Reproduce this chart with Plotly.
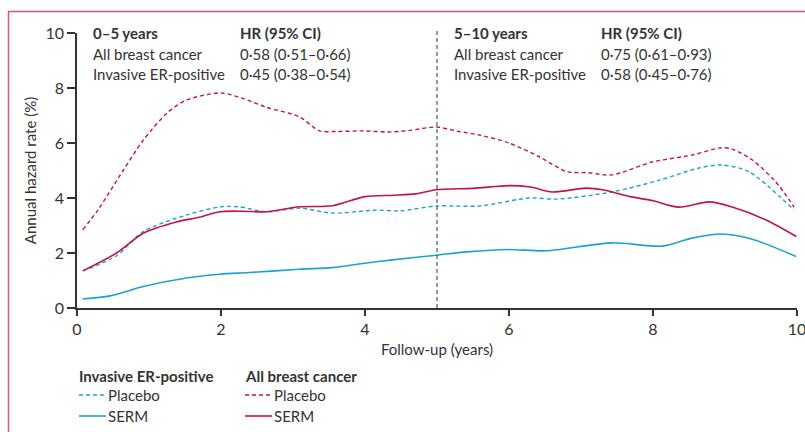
import plotly.graph_objects as go

# Follow-up time points (years) and annual hazard rates (%)
years_all_placebo = [0.08, 0.3, 0.64, 0.92, 1.25, 1.52, 2.0, 2.3, 2.63, 3.09, 3.37, 3.6, 4.0, 4.3, 4.6, 4.99, 5.3, 5.59, 6.0, 6.42, 6.8, 7.1, 7.43, 7.99, 8.54, 8.95, 9.1, 9.38, 9.7, 9.96]
all_placebo = [2.84, 3.6, 5.0, 6.1, 7.09, 7.56, 7.82, 7.62, 7.3, 6.95, 6.44, 6.42, 6.44, 6.40, 6.45, 6.58, 6.42, 6.29, 6.0, 5.5, 4.96, 4.92, 4.84, 5.31, 5.56, 5.83, 5.78, 5.38, 4.6, 3.67]

years_all_serm = [0.08, 0.55, 0.92, 1.38, 1.7, 1.98, 2.3, 2.63, 3.09, 3.55, 4.0, 4.4, 4.7, 4.99, 5.5, 6.0, 6.3, 6.6, 7.07, 7.3, 7.7, 8.0, 8.36, 8.78, 9.1, 9.57, 9.99]
all_serm = [1.35, 2.0, 2.72, 3.13, 3.3, 3.5, 3.52, 3.5, 3.68, 3.72, 4.05, 4.1, 4.15, 4.3, 4.35, 4.45, 4.4, 4.22, 4.36, 4.3, 4.04, 3.9, 3.67, 3.86, 3.67, 3.2, 2.6]

years_er_placebo = [0.08, 0.55, 0.92, 1.52, 2.0, 2.25, 2.63, 3.09, 3.55, 4.16, 4.48, 4.99, 5.59, 6.28, 6.66, 7.43, 8.09, 8.64, 8.95, 9.33, 9.96]
er_placebo = [1.35, 1.9, 2.78, 3.38, 3.68, 3.68, 3.5, 3.63, 3.45, 3.56, 3.53, 3.71, 3.71, 4.0, 3.96, 4.22, 4.65, 5.09, 5.2, 4.96, 3.56]

years_er_serm = [0.08, 0.46, 0.92, 1.52, 1.98, 2.4, 3.09, 3.55, 3.97, 4.38, 4.99, 5.41, 6.0, 6.52, 7.43, 8.13, 8.54, 8.96, 9.38, 9.99]
er_serm = [0.33, 0.44, 0.78, 1.09, 1.23, 1.29, 1.41, 1.47, 1.62, 1.75, 1.92, 2.04, 2.13, 2.08, 2.37, 2.25, 2.54, 2.69, 2.5, 1.87]

x_ticks = [0, 2, 4, 6, 8, 10]
y_ticks = [0, 2, 4, 6, 8, 10]
split_year = 5

hr_left = ["0–5 years", "All breast cancer", "Invasive ER-positive"]
hr_left_vals = ["HR (95% CI)", "0·58 (0·51–0·66)", "0·45 (0·38–0·54)"]
hr_right = ["5–10 years", "All breast cancer", "Invasive ER-positive"]
hr_right_vals = ["HR (95% CI)", "0·75 (0·61–0·93)", "0·58 (0·45–0·76)"]

CRIMSON = "#c4134a"
CYAN = "#1ba3cc"
TEXT = "#333333"
FRAME = "#d6587e"
FONT = "Lato"

W, H = 805, 432
L, R, T, B = 77, 8, 33, 124
PW, PH = W - L - R, H - T - B


def px(xp):
    return (xp - L) / PW


def py(yp):
    return (H - B - yp) / PH


fig = go.Figure()
dash = "4px,3px"
fig.add_trace(go.Scatter(x=years_all_placebo, y=all_placebo, mode="lines", line=dict(color=CRIMSON, width=1.4, dash=dash, shape="spline", smoothing=0.8)))
fig.add_trace(go.Scatter(x=years_er_placebo, y=er_placebo, mode="lines", line=dict(color=CYAN, width=1.4, dash=dash, shape="spline", smoothing=0.8)))
fig.add_trace(go.Scatter(x=years_all_serm, y=all_serm, mode="lines", line=dict(color=CRIMSON, width=1.6, shape="spline", smoothing=0.8)))
fig.add_trace(go.Scatter(x=years_er_serm, y=er_serm, mode="lines", line=dict(color=CYAN, width=1.6, shape="spline", smoothing=0.8)))

shapes = []
# vertical divider at 5 years
shapes.append(dict(type="line", xref="x", yref="paper", x0=split_year, x1=split_year, y0=0, y1=py(30),
                   line=dict(color="#4a5866", width=1.2, dash="4px,3px")))
# panel frame (top and left)
shapes.append(dict(type="line", xref="paper", yref="paper", x0=px(8), x1=px(806), y0=py(11.5), y1=py(11.5),
                   line=dict(color=FRAME, width=1.5)))
shapes.append(dict(type="line", xref="paper", yref="paper", x0=px(8.5), x1=px(8.5), y0=py(11.5), y1=py(433),
                   line=dict(color=FRAME, width=1.5)))

annotations = []


def txt(x, y, s, bold=False, size=15, **kw):
    annotations.append(dict(xref="paper", yref="paper", x=px(x), y=py(y), text=f"<b>{s}</b>" if bold else s,
                            showarrow=False, xanchor="left", yanchor="middle",
                            font=dict(family=FONT, size=size, color=TEXT), **kw))


for i, (a, b) in enumerate(zip(hr_left, hr_left_vals)):
    txt(91, 33 + 20.5 * i, a, bold=(i == 0))
    txt(238, 33 + 20.5 * i, b, bold=(i == 0))
for i, (a, b) in enumerate(zip(hr_right, hr_right_vals)):
    txt(452, 33 + 20.5 * i, a, bold=(i == 0))
    txt(599, 33 + 20.5 * i, b, bold=(i == 0))

# legend
legend_groups = [(77, "Invasive ER-positive", CYAN), (243, "All breast cancer", CRIMSON)]
for x0, title, col in legend_groups:
    txt(x0, 376, title, bold=True, size=15)
    shapes.append(dict(type="line", xref="paper", yref="paper", x0=px(x0 + 2), x1=px(x0 + 29), y0=py(395), y1=py(395),
                       line=dict(color=col, width=1.4, dash="4px,3px")))
    shapes.append(dict(type="line", xref="paper", yref="paper", x0=px(x0 + 2), x1=px(x0 + 29), y0=py(416), y1=py(416),
                       line=dict(color=col, width=1.6)))
    txt(x0 + 29, 395, "Placebo", size=15)
    txt(x0 + 29, 416, "SERM", size=15)

fig.update_layout(
    width=W, height=H,
    margin=dict(l=L, r=R, t=T, b=B),
    paper_bgcolor="white", plot_bgcolor="white",
    showlegend=False,
    font=dict(family=FONT, size=15, color=TEXT),
    shapes=shapes, annotations=annotations,
    xaxis=dict(range=[0, 10], tickvals=x_ticks, ticktext=[str(v) for v in x_ticks],
               showgrid=False, zeroline=False, showline=True, linecolor=TEXT, linewidth=1.5,
               ticks="outside", ticklen=6, tickcolor=TEXT, tickwidth=1.5,
               ticklabeloverflow="allow", automargin=False,
               tickfont=dict(family=FONT, size=16, color=TEXT),
               title=dict(text="Follow-up (years)", font=dict(family=FONT, size=15, color=TEXT), standoff=8)),
    yaxis=dict(range=[0, 10], tickvals=y_ticks, ticktext=[str(v) for v in y_ticks],
               showgrid=False, zeroline=False, showline=True, linecolor=TEXT, linewidth=1.5,
               ticks="outside", ticklen=8, tickcolor=TEXT, tickwidth=1.5, automargin=False,
               tickfont=dict(family=FONT, size=16, color=TEXT),
               title=dict(text="Annual hazard rate (%)", font=dict(family=FONT, size=15, color=TEXT), standoff=5)),
)

fig.write_html("out.html")
